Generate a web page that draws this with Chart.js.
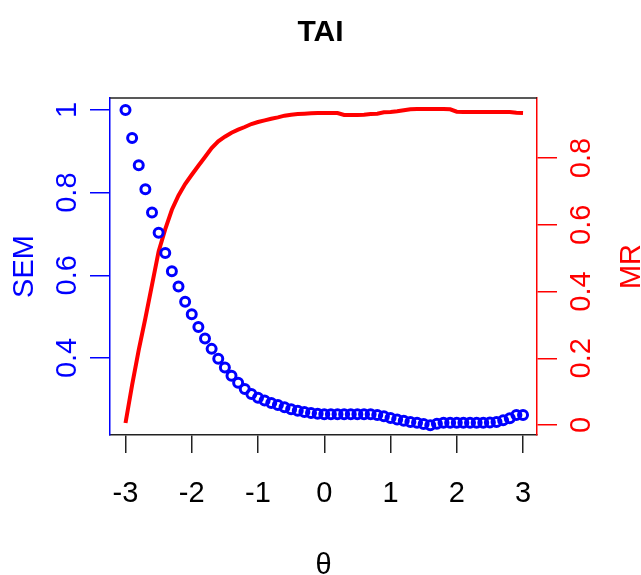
<!DOCTYPE html>
<html>
<head>
<meta charset="utf-8">
<script src="https://cdn.jsdelivr.net/npm/chart.js@4.4.1/dist/chart.umd.min.js"></script>
<style>
  html, body { margin: 0; padding: 0; background: #fff; }
  #wrap { width: 641px; height: 575px; }
</style>
</head>
<body>
<div id="wrap"><canvas id="taiChart" width="641" height="575"></canvas></div>
<script>
const FONT = "'Liberation Sans', Arial, sans-serif";

const theta = [
  -3.0, -2.9, -2.8, -2.7, -2.6, -2.5, -2.4, -2.3, -2.2, -2.1,
  -2.0, -1.9, -1.8, -1.7, -1.6, -1.5, -1.4, -1.3, -1.2, -1.1,
  -1.0, -0.9, -0.8, -0.7, -0.6, -0.5, -0.4, -0.3, -0.2, -0.1,
  0.0, 0.1, 0.2, 0.3, 0.4, 0.5, 0.6, 0.7, 0.8, 0.9,
  1.0, 1.1, 1.2, 1.3, 1.4, 1.5, 1.6, 1.7, 1.8, 1.9,
  2.0, 2.1, 2.2, 2.3, 2.4, 2.5, 2.6, 2.7, 2.8, 2.9, 3.0
];

const semValues = [
  1.000, 0.932, 0.866, 0.808, 0.752, 0.703, 0.654, 0.610, 0.573, 0.536,
  0.506, 0.475, 0.447, 0.422, 0.398, 0.377, 0.357, 0.340, 0.325, 0.313,
  0.304, 0.297, 0.291, 0.286, 0.281, 0.276, 0.272, 0.269, 0.267, 0.265,
  0.264, 0.264, 0.264, 0.264, 0.264, 0.264, 0.264, 0.264, 0.262, 0.259,
  0.255, 0.251, 0.248, 0.245, 0.243, 0.240, 0.237, 0.241, 0.243, 0.243,
  0.243, 0.243, 0.243, 0.243, 0.243, 0.244, 0.245, 0.249, 0.254, 0.262, 0.262
];

const mrValues = [
  0.006, 0.120, 0.225, 0.320, 0.420, 0.520, 0.587, 0.645, 0.688, 0.722,
  0.750, 0.777, 0.803, 0.830, 0.850, 0.864, 0.876, 0.885, 0.893, 0.902,
  0.908, 0.913, 0.918, 0.922, 0.927, 0.930, 0.932, 0.933, 0.934, 0.935,
  0.935, 0.935, 0.935, 0.929, 0.929, 0.929, 0.930, 0.932, 0.933, 0.937,
  0.938, 0.940, 0.943, 0.946, 0.947, 0.947, 0.947, 0.947, 0.947, 0.946,
  0.939, 0.938, 0.938, 0.938, 0.938, 0.938, 0.938, 0.938, 0.938, 0.936, 0.935
];

const xTicks = [-3, -2, -1, 0, 1, 2, 3];
const semTicks = [0.4, 0.6, 0.8, 1];
const mrTicks = [0, 0.2, 0.4, 0.6, 0.8];

function points(ys) {
  return theta.map((t, i) => ({ x: t, y: ys[i] }));
}

function fixTicks(list) {
  return scale => { scale.ticks = list.map(v => ({ value: v })); };
}

// R-style rotated labels on both vertical axes, plus the top frame line
const sidePlugin = {
  id: 'sideLabels',
  afterDraw(chart) {
    const ctx = chart.ctx;
    const area = chart.chartArea;
    const left = chart.scales.y;
    const right = chart.scales.y1;
    const midY = (area.top + area.bottom) / 2;

    ctx.save();
    ctx.strokeStyle = '#222';
    ctx.lineWidth = 1.5;
    ctx.beginPath();
    ctx.moveTo(area.left, area.top);
    ctx.lineTo(area.right, area.top);
    ctx.stroke();

    ctx.font = '29px ' + FONT;
    ctx.textAlign = 'center';
    ctx.textBaseline = 'middle';

    const drawUp = (text, x, y, color) => {
      ctx.save();
      ctx.translate(x, y);
      ctx.rotate(-Math.PI / 2);
      ctx.fillStyle = color;
      ctx.fillText(text, 0, 0);
      ctx.restore();
    };

    semTicks.forEach(v => drawUp(String(v), 68, left.getPixelForValue(v), '#0000ff'));
    mrTicks.forEach(v => drawUp(String(v), 582, right.getPixelForValue(v), '#ff0000'));
    drawUp('SEM', 25, midY, '#0000ff');
    drawUp('MR', 632, midY, '#ff0000');
    ctx.restore();
  }
};

new Chart(document.getElementById('taiChart'), {
  type: 'scatter',
  data: {
    datasets: [
      {
        label: 'SEM',
        data: points(semValues),
        yAxisID: 'y',
        showLine: false,
        pointStyle: 'circle',
        pointRadius: 4.5,
        pointBorderWidth: 3,
        pointBorderColor: '#0000ff',
        pointBackgroundColor: 'rgba(0,0,0,0)',
        clip: false
      },
      {
        label: 'MR',
        data: points(mrValues),
        yAxisID: 'y1',
        showLine: true,
        borderColor: '#ff0000',
        borderWidth: 4,
        pointRadius: 0,
        tension: 0,
        clip: false
      }
    ]
  },
  options: {
    responsive: false,
    animation: false,
    layout: { padding: 0 },
    plugins: {
      legend: { display: false },
      tooltip: { enabled: false },
      title: {
        display: true,
        text: 'TAI',
        color: '#000',
        font: { family: FONT, size: 30, weight: 'bold' },
        padding: { top: 15, bottom: 47 }
      }
    },
    scales: {
      x: {
        type: 'linear',
        position: 'bottom',
        min: -3.234,
        max: 3.211,
        afterBuildTicks: fixTicks(xTicks),
        afterFit: s => { s.height = 140; },
        border: { display: true, color: '#222', width: 1.5 },
        grid: { drawOnChartArea: false, drawTicks: true, tickLength: 18, color: '#222', lineWidth: 1.5 },
        ticks: { color: '#000', font: { family: FONT, size: 29 }, padding: 24, maxRotation: 0 },
        title: { display: true, text: 'θ', color: '#000', font: { family: FONT, size: 29 }, padding: { top: 30, bottom: -8 } }
      },
      y: {
        type: 'linear',
        position: 'left',
        min: 0.2136,
        max: 1.029,
        afterBuildTicks: fixTicks(semTicks),
        afterFit: s => { s.width = 110; },
        border: { display: true, color: '#0000ff', width: 1.5 },
        grid: { drawOnChartArea: false, drawTicks: true, tickLength: 20, color: '#0000ff', lineWidth: 1.5 },
        ticks: { display: false }
      },
      y1: {
        type: 'linear',
        position: 'right',
        min: -0.03,
        max: 0.98,
        afterBuildTicks: fixTicks(mrTicks),
        afterFit: s => { s.width = 104; },
        border: { display: true, color: '#ff0000', width: 1.5 },
        grid: { drawOnChartArea: false, drawTicks: true, tickLength: 20, color: '#ff0000', lineWidth: 1.5 },
        ticks: { display: false }
      }
    }
  },
  plugins: [sidePlugin]
});
</script>
</body>
</html>
